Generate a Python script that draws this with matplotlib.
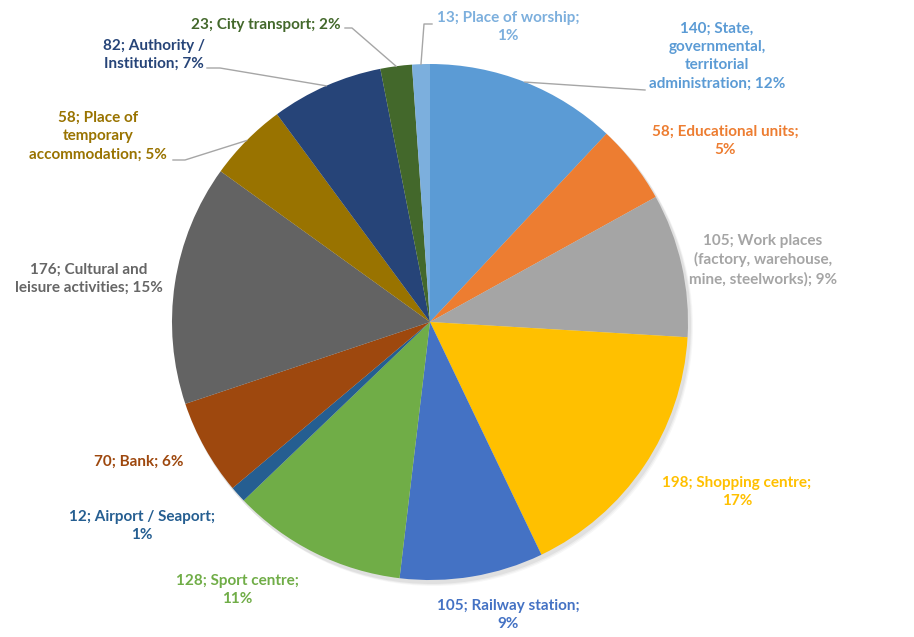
import numpy as np
import matplotlib.pyplot as plt

plt.rcParams['font.family'] = ['Lato', 'DejaVu Sans']

# slices, clockwise from 12 o'clock
categories = ['State,\ngovernmental,\nterritorial\nadministration', 'Educational units',
              'Work places\n(factory, warehouse,\nmine, steelworks)', 'Shopping centre',
              'Railway station', 'Sport centre', 'Airport / Seaport', 'Bank',
              'Cultural and\nleisure activities', 'Place of\ntemporary\naccommodation',
              'Authority /\nInstitution', 'City transport', 'Place of worship']
counts = [140, 58, 105, 198, 105, 128, 12, 70, 176, 58, 82, 23, 13]
percents = [12, 5, 9, 17, 9, 11, 1, 6, 15, 5, 7, 2, 1]

slice_colors = ['#5B9BD5', '#ED7D31', '#A5A5A5', '#FFC000', '#4472C4', '#70AD47', '#255E91',
                '#9E480E', '#636363', '#997300', '#264478', '#43682B', '#7CAFDD']
text_colors = ['#5B9BD5', '#ED7D31', '#A5A5A5', '#FFC000', '#4472C4', '#70AD47', '#255E91',
               '#9E480E', '#666666', '#997300', '#264478', '#43682B', '#7CAFDD']

# label text: "count; name; pct%" with the original's line breaks
label_texts = [
    '140; State,\ngovernmental,\nterritorial\nadministration; 12%',
    '58; Educational units;\n5%',
    '105; Work places\n(factory, warehouse,\nmine, steelworks); 9%',
    '198; Shopping centre;\n17%',
    '105; Railway station;\n9%',
    '128; Sport centre;\n11%',
    '12; Airport / Seaport;\n1%',
    '70; Bank; 6%',
    '176; Cultural and\nleisure activities; 15%',
    '58; Place of\ntemporary\naccommodation; 5%',
    '82; Authority /\nInstitution; 7%',
    '23; City transport; 2%',
    '13; Place of worship;\n1%',
]

# layout (pixel coords, y from top)
label_pos = [(717, 56), (725, 141), (763, 260), (737, 492), (508, 615), (237, 590),
             (142, 526), (139, 462), (89, 279), (98, 136), (154, 55), (266, 25), (508, 27)]
# leader line start points (label side)
leaders = {0: [(645, 90)], 9: [(173, 160), (185, 160)], 10: [(207, 68), (220, 68)],
           11: [(345, 28), (352, 28)], 12: [(432, 24), (424, 24)]}

W, H = 914, 637
cx, cy, R = 430, 322, 258

fig = plt.figure(figsize=(W / 100, H / 100), dpi=100)
ax = fig.add_axes([0, 0, 1, 1])

# soft shadow
for i, a in enumerate([0.05, 0.04, 0.03]):
    ax.add_patch(plt.Circle((cx + 2 + i, cy + 3 + i), R + 1, color='black', alpha=a, lw=0))

wedges, _ = ax.pie(counts, colors=slice_colors, startangle=-90, counterclock=True,
                   center=(cx, cy), radius=R, frame=True,
                   wedgeprops=dict(linewidth=0, edgecolor='none'))
ax.set_xlim(0, W)
ax.set_ylim(H, 0)
ax.set_aspect('equal')
ax.axis('off')

for i, w in enumerate(wedges):
    x, y = label_pos[i]
    ax.text(x, y, label_texts[i], ha='center', va='center', ma='center',
            fontsize=11, fontweight='bold', color=text_colors[i], linespacing=1.4)
    if i in leaders:
        mid = np.deg2rad((w.theta1 + w.theta2) / 2)
        ex, ey = cx + R * np.cos(mid), cy + R * np.sin(mid)
        pts = leaders[i] + [(ex, ey)]
        ax.plot([p[0] for p in pts], [p[1] for p in pts], color='#A6A6A6', lw=1)

fig.savefig('out.png', dpi=100)
